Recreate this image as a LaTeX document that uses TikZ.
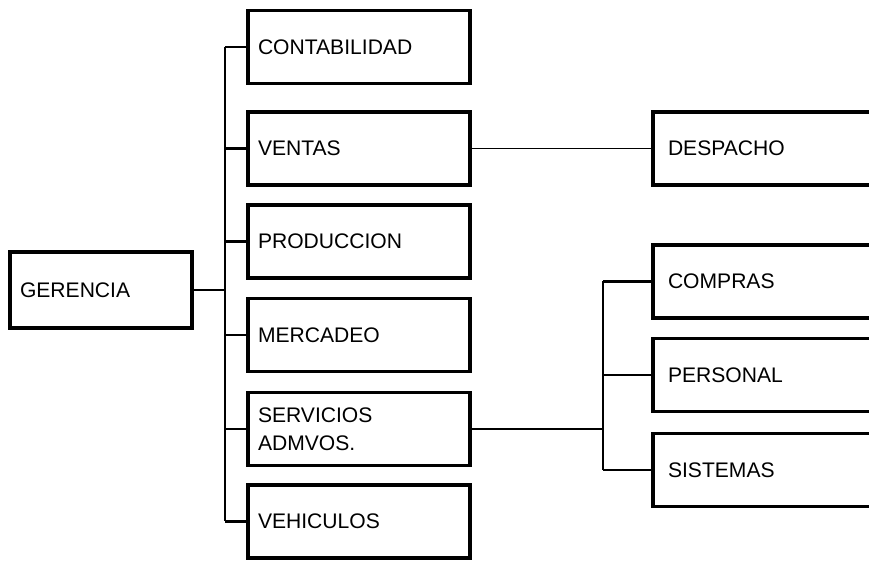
\documentclass[tikz,border=0pt]{standalone}
\usepackage{fontspec}
\setmainfont{Liberation Sans}
\usepackage{tikz}

\tikzset{
  caja/.style={draw, line width=2.2pt, minimum height=1.46cm, inner xsep=0.2cm,
    text width=4.04cm, align=left, font=\fontsize{12}{16}\selectfont},
  cajader/.style={caja, inner xsep=0.3cm, text width=4.2cm},
  rama/.style={line width=1.2pt},
  enlace/.style={line width=0.9pt},
}

\begin{document}
\begin{tikzpicture}
\clip (0,0) rectangle (17.38,11.26);
\fill[white] (0,0) rectangle (17.38,11.26);

\node[caja, text width=3.24cm, minimum height=1.52cm] (gerencia) at (2.02,5.46) {GERENCIA};

\node[caja] (contabilidad) at (7.18,10.32) {CONTABILIDAD};
\node[caja] (ventas) at (7.18,8.29) {VENTAS};
\node[caja] (produccion) at (7.18,6.43) {PRODUCCION};
\node[caja] (mercadeo) at (7.18,4.56) {MERCADEO};
\node[caja] (servicios) at (7.18,2.68) {SERVICIOS\\ADMVOS.};
\node[caja] (vehiculos) at (7.18,0.83) {VEHICULOS};

\node[cajader] (despacho) at (15.46,8.29) {DESPACHO};
\node[cajader] (compras) at (15.46,5.63) {COMPRAS};
\node[cajader] (personal) at (15.46,3.76) {PERSONAL};
\node[cajader] (sistemas) at (15.46,1.86) {SISTEMAS};

\coordinate (tronco) at (4.5,5.46);
\coordinate (tronco2) at (12.06,2.68);

\draw[rama] (gerencia.east) -- (tronco);
\draw[rama] (tronco |- contabilidad.west) -- (tronco |- vehiculos.west);
\foreach \n in {contabilidad,ventas,produccion,mercadeo,servicios,vehiculos}
  \draw[rama] (tronco |- \n.west) -- (\n.west);

\draw[enlace] (ventas.east) -- (despacho.west);

\draw[enlace] (servicios.east) -- (tronco2);
\draw[rama] (tronco2 |- compras.west) -- (tronco2 |- sistemas.west);
\foreach \n in {compras,personal,sistemas}
  \draw[rama] (tronco2 |- \n.west) -- (\n.west);
\end{tikzpicture}
\end{document}
